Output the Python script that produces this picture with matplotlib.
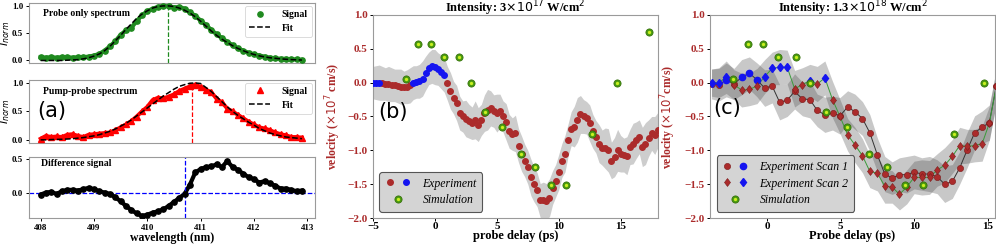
import numpy as np
import matplotlib
matplotlib.use("Agg")
import matplotlib.pyplot as plt
from matplotlib.lines import Line2D
from matplotlib.legend_handler import HandlerTuple

plt.rcParams['font.serif'] = ['Liberation Serif', 'DejaVu Serif']
plt.rcParams['mathtext.fontset'] = 'dejavusans'

# ---------------- panel (a): spectra ----------------
wl = np.round(np.arange(408.0, 412.95, 0.1), 2)  # sample grid, 50 points

probe_sig = [0.06, 0.05, 0.06, 0.05, 0.06, 0.06, 0.05, 0.06, 0.06, 0.07,
             0.09, 0.12, 0.18, 0.26, 0.35, 0.47, 0.55, 0.60, 0.72, 0.83,
             0.90, 0.95, 0.98, 1.00, 0.99, 0.97, 0.98, 0.95, 0.88, 0.82,
             0.73, 0.65, 0.56, 0.48, 0.41, 0.34, 0.28, 0.22, 0.18, 0.14,
             0.11, 0.09, 0.07, 0.05, 0.04, 0.03, 0.03, 0.02, 0.02, 0.01]
probe_fit = [0.0, 0.0, 0.0, 0.0, 0.0, 0.005, 0.01, 0.015, 0.03, 0.05,
             0.08, 0.12, 0.18, 0.26, 0.36, 0.46, 0.57, 0.67, 0.77, 0.85,
             0.91, 0.96, 0.99, 1.0, 1.0, 0.99, 0.96, 0.92, 0.87, 0.80,
             0.72, 0.63, 0.54, 0.46, 0.39, 0.33, 0.27, 0.22, 0.18, 0.14,
             0.11, 0.085, 0.065, 0.05, 0.04, 0.03, 0.022, 0.016, 0.012, 0.008]
pp_sig = [0.02, 0.07, 0.05, 0.06, 0.05, 0.09, 0.10, 0.07, 0.05, 0.09,
          0.10, 0.11, 0.12, 0.13, 0.17, 0.22, 0.27, 0.33, 0.41, 0.50,
          0.58, 0.70, 0.74, 0.73, 0.76, 0.80, 0.86, 0.90, 0.94, 0.97,
          0.93, 0.88, 0.84, 0.72, 0.66, 0.55, 0.50, 0.44, 0.38, 0.32,
          0.27, 0.22, 0.20, 0.17, 0.13, 0.10, 0.08, 0.05, 0.05, 0.04]
pp_fit = [0.0, 0.0, 0.005, 0.008, 0.01, 0.015, 0.02, 0.03, 0.04, 0.055,
          0.07, 0.09, 0.12, 0.15, 0.19, 0.24, 0.29, 0.35, 0.42, 0.49,
          0.56, 0.63, 0.70, 0.77, 0.83, 0.89, 0.94, 0.97, 0.995, 1.0,
          0.99, 0.92, 0.85, 0.76, 0.67, 0.58, 0.50, 0.43, 0.37, 0.31,
          0.26, 0.20, 0.16, 0.12, 0.09, 0.07, 0.05, 0.04, 0.03, 0.02]
diff_sig = [-0.03, 0.0, 0.01, -0.02, 0.02, 0.04, 0.04, 0.03, 0.05, 0.07,
            0.05, 0.02, 0.0, -0.02, -0.07, -0.13, -0.20, -0.26, -0.31, -0.35,
            -0.33, -0.30, -0.28, -0.25, -0.20, -0.14, -0.08, -0.02, 0.12, 0.30,
            0.35, 0.38, 0.39, 0.42, 0.38, 0.47, 0.38, 0.34, 0.28, 0.23,
            0.20, 0.15, 0.17, 0.14, 0.10, 0.06, 0.06, 0.04, 0.02, 0.03]
probe_peak = 410.38
pp_peak = 410.83
diff_zero = 410.70

# ---------------- panel (b): 3e17 W/cm2 ----------------
b_delay = np.arange(-5.0, 18.01, 0.25)  # 93 points
b_vel = [0.0, 0.0, 0.0, -0.01, -0.02, -0.02, -0.03, -0.04,
         -0.05, -0.06, -0.07, -0.06, -0.04, 0.0, 0.01, 0.02,
         0.06, 0.14, 0.21, 0.24, 0.23, 0.20, 0.16, 0.12,
         -0.01, -0.12, -0.22, -0.30, -0.45, -0.50, -0.53, -0.57,
         -0.60, -0.55, -0.62, -0.55, -0.45, -0.40, -0.38, -0.42,
         -0.45, -0.42, -0.50, -0.58, -0.72, -0.76, -0.75, -0.93,
         -1.05, -1.15, -1.25, -1.40, -1.50, -1.58, -1.74, -1.74,
         -1.75, -1.70, -1.55, -1.45, -1.32, -1.15, -1.05, -0.85,
         -0.68, -0.65, -0.55, -0.47, -0.50, -0.52, -0.60, -0.72,
         -0.80, -0.90, -0.96, -0.97, -1.00, -1.15, -1.10, -1.00,
         -1.05, -1.07, -1.08, -0.95, -0.90, -0.85, -0.80, -0.95,
         -0.90, -0.82, -0.75, -0.78, -0.70]
b_err = [0.24, 0.25, 0.26, 0.25, 0.24, 0.26, 0.25, 0.24,
         0.25, 0.26, 0.24, 0.25, 0.26, 0.25, 0.24, 0.25,
         0.26, 0.25, 0.24, 0.25, 0.26, 0.24, 0.25, 0.26,
         0.25, 0.27, 0.24, 0.26, 0.25, 0.23, 0.27, 0.25,
         0.24, 0.28, 0.25, 0.23, 0.27, 0.30, 0.26, 0.24,
         0.28, 0.25, 0.23, 0.27, 0.25, 0.24, 0.27, 0.25,
         0.26, 0.24, 0.25, 0.27, 0.26, 0.25, 0.25, 0.27,
         0.26, 0.28, 0.25, 0.24, 0.26, 0.25, 0.27, 0.24,
         0.25, 0.30, 0.33, 0.28, 0.25, 0.24, 0.27, 0.25,
         0.24, 0.28, 0.26, 0.30, 0.32, 0.27, 0.29, 0.31,
         0.27, 0.25, 0.28, 0.26, 0.30, 0.27, 0.25, 0.29,
         0.31, 0.27, 0.25, 0.28, 0.26]

# simulation (shared by b and c)
sim_delay = [-2.37, -1.33, -0.28, 0.74, 1.94, 2.94, 4.02, 5.43, 6.92,
             8.12, 9.36, 10.6, 12.7, 14.73, 17.3]
sim_vel = [0.05, 0.57, 0.57, 0.375, 0.375, 0.0, -0.44, -0.66, -1.05,
           -1.24, -1.51, -1.51, -0.76, 0.0, 0.755]

# ---------------- panel (c): 1.3e18 W/cm2 ----------------
c_delay = [-3.8, -3.3, -2.8, -2.27, -1.75, -1.22, -0.7, -0.18, 0.33, 0.84,
           1.35, 1.86, 2.39, 2.9, 3.4, 3.92, 4.44, 4.95, 5.47, 5.97,
           6.48, 6.98, 7.5, 8.0, 8.5, 9.0, 9.5, 10.0, 10.52, 11.05,
           11.57, 12.08, 12.6, 13.1, 13.6, 14.12, 14.63, 15.12, 15.6]
scan1 = [-0.02, -0.03, 0.04, -0.02, 0.08, 0.14, 0.04, -0.08, -0.05, -0.29,
         -0.26, -0.13, -0.24, -0.25, -0.41, -0.475, -0.45, -0.49, -0.36, -0.43,
         -0.53, -0.74, -1.07, -1.35, -1.41, -1.36, -1.36, -1.32, -1.35, -1.35,
         -1.39, -1.50, -1.46, -1.26, -1.00, -0.74, -0.66, -0.59, -0.05]
scan1_err = [0.22, 0.24, 0.25, 0.23, 0.26, 0.24, 0.25, 0.27, 0.25, 0.26,
             0.24, 0.26, 0.25, 0.27, 0.24, 0.26, 0.25, 0.27, 0.24, 0.26,
             0.25, 0.27, 0.25, 0.26, 0.24, 0.25, 0.27, 0.25, 0.24, 0.26,
             0.25, 0.27, 0.25, 0.24, 0.26, 0.25, 0.24, 0.26, 0.25]
scan2 = [0.0, 0.0, 0.08, -0.03, -0.11, -0.10, -0.05, 0.09, 0.21, 0.23,
         0.23, -0.09, -0.03, 0.03, -0.02, 0.07, -0.25, -0.50, -0.77, -0.92,
         -1.08, -1.31, -1.34, -1.53, -1.54, -1.65, -1.54, -1.40, -1.40, -1.40,
         -1.29, -1.22, -1.09, -0.93, -0.94, -0.93, -0.90, -0.60, -0.05]
scan2_err = [0.20, 0.22, 0.24, 0.22, 0.25, 0.24, 0.26, 0.25, 0.24, 0.26,
             0.25, 0.27, 0.25, 0.24, 0.26, 0.25, 0.27, 0.25, 0.24, 0.26,
             0.25, 0.24, 0.26, 0.25, 0.24, 0.23, 0.25, 0.24, 0.26, 0.25,
             0.24, 0.26, 0.25, 0.27, 0.25, 0.24, 0.26, 0.25, 0.25]

RED = '#ab2b2b'
BLUE = '#1414f0'
SIM_OUT = '#4a9a10'
SIM_IN = '#c8f020'
SPINE = '#9a9a9a'

bold_serif = dict(family='serif', weight='bold')


def style_spines(ax, xpad=1.5):
    for s in ax.spines.values():
        s.set_color(SPINE)
    ax.tick_params(colors='black', length=2.5, width=0.7, pad=1.5)
    ax.tick_params(axis='x', length=2, pad=xpad)


def bold_ticks(ax, size, ycolor='black'):
    for lab in ax.get_xticklabels():
        lab.set_fontfamily('serif'); lab.set_fontweight('bold'); lab.set_fontsize(size)
    for lab in ax.get_yticklabels():
        lab.set_fontfamily('serif'); lab.set_fontweight('bold'); lab.set_fontsize(size)
        lab.set_color(ycolor)


def sim_points(ax):
    ax.plot(sim_delay, sim_vel, 'o', color=SIM_OUT, ms=5.2, mec='#2f6a05', mew=0.5, zorder=6)
    ax.plot(sim_delay, sim_vel, 'o', color=SIM_IN, ms=2.4, mew=0, zorder=7)


def panel_title(ax, text):
    ax.text(0.5, 1.012, text, transform=ax.transAxes, ha='center', va='baseline',
            fontsize=9, **bold_serif)


fig = plt.figure(figsize=(9.96, 2.45), dpi=100)

# ---- (a) ----
a1 = fig.add_axes([0.029, 0.742, 0.287, 0.245])
a2 = fig.add_axes([0.029, 0.4176, 0.287, 0.2555], sharex=a1)
a3 = fig.add_axes([0.029, 0.110, 0.287, 0.249], sharex=a1)

a1.plot(wl, probe_sig, '-', color='#1f8a1f', lw=3.0, zorder=2)
a1.plot(wl, probe_sig, 'o', color='#1f8a1f', ms=3.8, label='Signal', zorder=3)
a1.plot(wl, probe_fit, '--', color='black', lw=1.1, label='Fit', zorder=4)
a1.vlines(probe_peak, -0.05, 1.0, colors='#1f8a1f', linestyles='--', lw=0.9)
a1.set_ylim(-0.05, 1.05)
a1.set_yticks([0.0, 0.5, 1.0])
a1.text(0.048, 0.82, 'Probe only spectrum', transform=a1.transAxes, fontsize=7, va='center', **bold_serif)
a1.set_ylabel('$I_{norm}$', fontsize=8)
a1.yaxis.set_label_coords(-0.058, 0.5)

a2.plot(wl, pp_sig, '-', color='red', lw=2.8, zorder=2)
a2.plot(wl, pp_sig, '^', color='red', ms=3.8, label='Signal', zorder=3)
a2.plot(wl, pp_fit, '--', color='black', lw=1.1, label='Fit', zorder=4)
a2.vlines(pp_peak, -0.05, 1.0, colors='red', linestyles='--', lw=0.9)
a2.set_ylim(-0.05, 1.05)
a2.set_yticks([0.0, 0.5, 1.0])
a2.text(0.048, 0.81, 'Pump-probe spectrum', transform=a2.transAxes, fontsize=7, va='center', **bold_serif)
a2.text(0.03, 0.5, '(a)', transform=a2.transAxes, fontsize=15, va='center', family='DejaVu Sans')
a2.set_ylabel('$I_{norm}$', fontsize=8)
a2.yaxis.set_label_coords(-0.058, 0.5)

a3.plot(wl, diff_sig, '-', color='black', lw=3.0, zorder=2)
a3.plot(wl, diff_sig, 'o', color='black', ms=3.8, zorder=3)
a3.axhline(0, color='blue', ls='--', lw=0.9)
a3.axvline(diff_zero, color='blue', ls='--', lw=0.9)
a3.set_ylim(-0.38, 0.53)
a3.set_yticks([0.0, 0.5])
a3.text(0.041, 0.9, 'Difference signal', transform=a3.transAxes, fontsize=7, va='center', **bold_serif)
a3.set_xlim(407.78, 413.14)
a3.set_xticks([408, 409, 410, 411, 412, 413])
a3.set_xlabel('wavelength (nm)', fontsize=8.5, labelpad=-0.5, **bold_serif)

for ax in (a1, a2):
    ax.tick_params(axis='x', bottom=False, labelbottom=False)
    leg = ax.legend(loc='upper right', prop=dict(family='serif', weight='bold', size=7),
                    handlelength=2.2, borderpad=0.4, labelspacing=0.5, handletextpad=1.2,
                    borderaxespad=0.3)
    leg.get_frame().set_linewidth(0.6)
for ax in (a1, a2, a3):
    style_spines(ax, xpad=2.5)
    bold_ticks(ax, 6.5)

# ---- (b) ----
b = fig.add_axes([0.3745, 0.110, 0.286, 0.829])
b_vel_arr = np.array(b_vel)
b_err_arr = np.array(b_err)
b.fill_between(b_delay, b_vel_arr - b_err_arr, b_vel_arr + b_err_arr, color='#cdcdcd', lw=0, zorder=1)
pos = b_vel_arr >= 0
b.plot(b_delay[~pos], b_vel_arr[~pos], 'o', color=RED, ms=4, zorder=3)
b.plot(b_delay[pos], b_vel_arr[pos], 'o', color=BLUE, ms=4, zorder=3)
sim_points(b)
b.set_xlim(-5, 18)
b.set_ylim(-2.0, 1.0)
b.set_xticks([-5, 0, 5, 10, 15])
b.set_yticks(np.arange(-2.0, 1.01, 0.5))
panel_title(b, 'Intensity: 3$\\times10^{17}$ W/cm$^2$')
b.set_xlabel('probe delay (ps)', fontsize=9, labelpad=-0.5, **bold_serif)
b.set_ylabel('velocity ($\\times10^7$ cm/s)', fontsize=8.5, color=RED, **bold_serif)
b.yaxis.set_label_coords(-0.105, 0.5)
b.text(-4.55, -0.43, '(b)', fontsize=15, va='center', family='DejaVu Sans')

exp_h = (Line2D([], [], ls='', marker='o', color=RED, ms=4),
         Line2D([], [], ls='', marker='o', color=BLUE, ms=4))
sim_h = (Line2D([], [], ls='', marker='o', color=SIM_OUT, mec='#2f6a05', mew=0.5, ms=5.2),
         Line2D([], [], ls='', marker='o', color=SIM_IN, ms=2.4, mew=0))
leg = b.legend([exp_h, sim_h], ['Experiment', 'Simulation'], loc='lower left',
               handler_map={exp_h: HandlerTuple(ndivide=None, pad=0.6), sim_h: HandlerTuple(ndivide=1)},
               prop=dict(family='serif', style='italic', size=8.5), handlelength=2.2,
               borderpad=0.45, labelspacing=0.4, handletextpad=1.0, borderaxespad=0.55,
               facecolor='#d4d4d4', edgecolor='#555555', framealpha=1.0, fancybox=True)
leg.get_frame().set_linewidth(0.8)
style_spines(b, xpad=0.5)
bold_ticks(b, 8, ycolor=RED)

# ---- (c) ----
c = fig.add_axes([0.7129, 0.110, 0.286, 0.829])
cd = np.array(c_delay)
for vals, errs in ((scan1, scan1_err), (scan2, scan2_err)):
    v = np.array(vals); e = np.array(errs)
    c.fill_between(cd, v - e, v + e, color='#4a4a4a', alpha=0.3, lw=0, zorder=1)
s1 = np.array(scan1)
s2 = np.array(scan2)
c.plot(cd, s1, '-', color='#333333', lw=0.7, zorder=3)
c.plot(cd, s2, '-', color='#3a9a3a', lw=0.7, zorder=3)
p1 = s1 >= 0
p2 = s2 >= 0
c.plot(cd[~p1], s1[~p1], 'o', color=RED, mec='#7a1a1a', mew=0.4, ms=4.5, zorder=4)
c.plot(cd[p1], s1[p1], 'o', color=BLUE, ms=4.5, zorder=4)
c.plot(cd[~p2], s2[~p2], 'd', color=RED, mec='#7a1a1a', mew=0.4, ms=4.5, zorder=4)
c.plot(cd[p2], s2[p2], 'd', color=BLUE, ms=4.5, zorder=4)
sim_points(c)
c.set_xlim(-3.9, 15.5)
c.set_ylim(-2.0, 1.0)
c.set_xticks([0, 5, 10, 15])
c.set_yticks(np.arange(-2.0, 1.01, 0.5))
panel_title(c, 'Intensity: 1.3$\\times10^{18}$ W/cm$^2$')
c.set_xlabel('Probe delay (ps)', fontsize=9, labelpad=-0.5, **bold_serif)
c.set_ylabel('velocity ($\\times10^7$cm/s)', fontsize=8.5, color=RED, **bold_serif)
c.yaxis.set_label_coords(-0.112, 0.5)
c.text(-3.7, -0.37, '(c)', fontsize=15, va='center', family='DejaVu Sans')

sc1_h = (Line2D([], [], ls='', marker='o', color=RED, mec='#7a1a1a', mew=0.4, ms=4.5),
         Line2D([], [], ls='', marker='o', color=BLUE, ms=4.5))
sc2_h = (Line2D([], [], ls='', marker='d', color=RED, mec='#7a1a1a', mew=0.4, ms=4.5),
         Line2D([], [], ls='', marker='d', color=BLUE, ms=4.5))
sim_h2 = (Line2D([], [], ls='', marker='o', color=SIM_OUT, mec='#2f6a05', mew=0.5, ms=5.2),
          Line2D([], [], ls='', marker='o', color=SIM_IN, ms=2.4, mew=0))
leg = c.legend([sc1_h, sc2_h, sim_h2], ['Experiment Scan 1', 'Experiment Scan 2', 'Simulation'],
               loc='lower left',
               handler_map={sc1_h: HandlerTuple(ndivide=None, pad=0.6),
                            sc2_h: HandlerTuple(ndivide=None, pad=0.6),
                            sim_h2: HandlerTuple(ndivide=1)},
               prop=dict(family='serif', style='italic', size=8.5), handlelength=2.2,
               borderpad=0.45, labelspacing=0.4, handletextpad=1.0, borderaxespad=0.55,
               facecolor='#d4d4d4', edgecolor='#555555', framealpha=1.0, fancybox=True)
leg.get_frame().set_linewidth(0.8)
style_spines(c, xpad=0.5)
bold_ticks(c, 8, ycolor=RED)

fig.savefig('out.png', dpi=100)
